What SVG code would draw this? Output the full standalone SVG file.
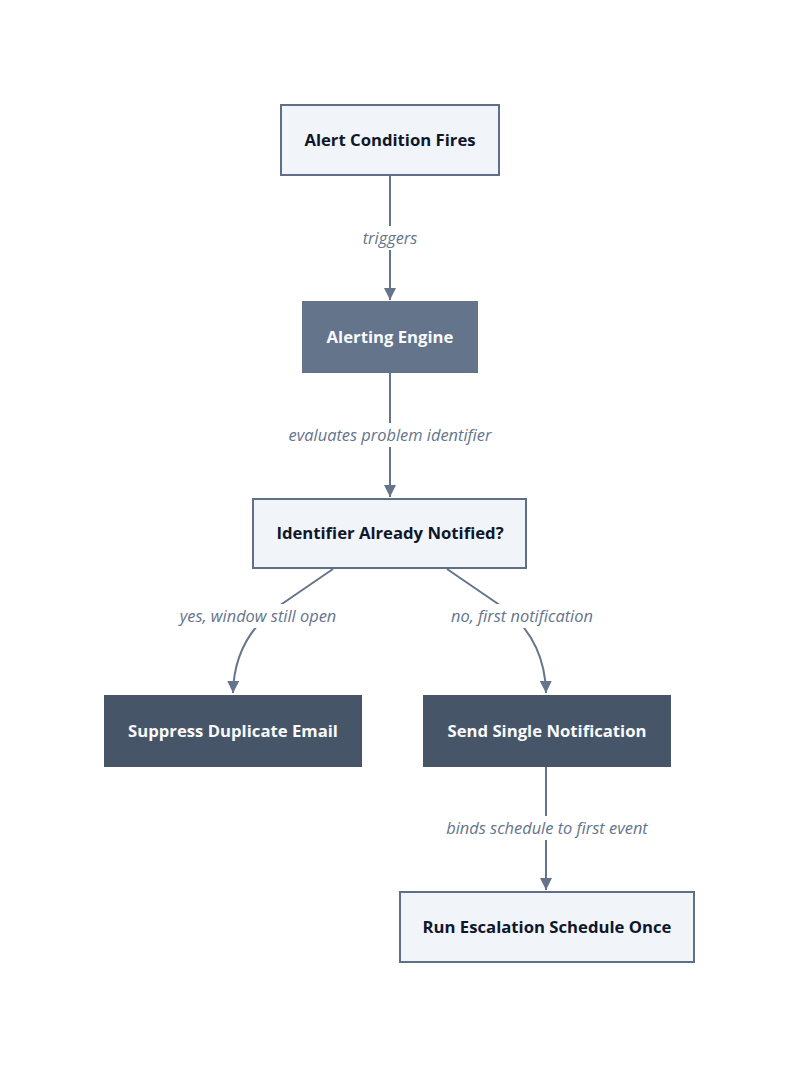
<svg xmlns="http://www.w3.org/2000/svg" width="800" height="1068" viewBox="0 0 800 1068">
<style>
.light rect{fill:#f1f4f9;stroke:#5f6f88;stroke-width:2}
.mid rect{fill:#64748b;stroke:#64748b;stroke-width:2}
.dark rect{fill:#475569;stroke:#475569;stroke-width:2}
.light text{fill:#0f172a}
.mid text,.dark text{fill:#f8fafc}
.node text{font-family:"Open Sans","Noto Sans",sans-serif;font-size:16.7px;font-weight:700;text-anchor:middle;dominant-baseline:central}
.edge{fill:none;stroke:#64748b;stroke-width:2}
.lbl rect{fill:#ffffff}
.lbl text{font-family:"Open Sans","Noto Sans",sans-serif;font-size:16.4px;font-style:italic;fill:#64748b;text-anchor:middle;dominant-baseline:central}
</style>
<defs>
<marker id="arr" viewBox="0 0 10 10" refX="10" refY="5" markerWidth="6" markerHeight="6" orient="auto" markerUnits="strokeWidth">
<path d="M0,0 L10,5 L0,10 z" fill="#64748b"/>
</marker>
</defs>
<rect width="800" height="1068" fill="#ffffff"/>
<g id="connectors">
<path class="edge" d="M390,176 L390,300" marker-end="url(#arr)"/>
<path class="edge" d="M390,373 L390,497" marker-end="url(#arr)"/>
<path class="edge" d="M333,569 L276,608 Q234,640 233,693" marker-end="url(#arr)"/>
<path class="edge" d="M447,569 L504,608 Q545,640 546,693" marker-end="url(#arr)"/>
<path class="edge" d="M546,767 L546,890" marker-end="url(#arr)"/>
<g class="lbl">
<rect x="355" y="226" width="70" height="24"/><text x="390" y="237">triggers</text>
<rect x="282" y="423" width="216" height="24"/><text x="390" y="434">evaluates problem identifier</text>
<rect x="172" y="604" width="172" height="24"/><text x="258" y="615">yes, window still open</text>
<rect x="443" y="604" width="158" height="24"/><text x="522" y="615">no, first notification</text>
<rect x="439" y="816" width="216" height="24"/><text x="547" y="827">binds schedule to first event</text>
</g>
</g>
<g id="n1" class="node light"><rect x="281" y="105" width="218" height="70"/><text x="390" y="139">Alert Condition Fires</text></g>
<g id="n2" class="node mid"><rect x="303" y="302" width="174" height="70"/><text x="390" y="336">Alerting Engine</text></g>
<g id="n3" class="node light"><rect x="253" y="499" width="273" height="69"/><text x="390" y="532">Identifier Already Notified?</text></g>
<g id="n4" class="node dark"><rect x="105" y="696" width="256" height="70"/><text x="233" y="730">Suppress Duplicate Email</text></g>
<g id="n5" class="node dark"><rect x="424" y="696" width="246" height="70"/><text x="547" y="730">Send Single Notification</text></g>
<g id="n6" class="node light"><rect x="400" y="892" width="294" height="70"/><text x="547" y="926">Run Escalation Schedule Once</text></g>
</svg>
